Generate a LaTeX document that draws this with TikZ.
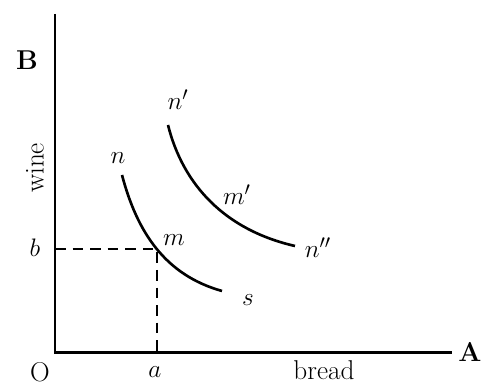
\documentclass[tikz,border=0pt]{standalone}
\usepackage{tikz}
\usetikzlibrary{positioning}

\begin{document}
\begin{tikzpicture}[
    x=0.02cm, y=-0.02cm,
    axis/.style = {draw=black, line width=1.7pt},
    curve/.style = {draw=black, line width=1.5pt},
    guide/.style = {draw=black, line width=1.1pt, dash pattern=on 6pt off 4pt},
    lbl/.style = {font=\fontsize{15.5}{18}\selectfont, inner sep=1pt}
]
\useasboundingbox (0,0) rectangle (488,384);

% Axes
\coordinate (c_O) at (55,353);
\coordinate (c_top) at (55,14);
\coordinate (c_right) at (452,353);
\coordinate (c_m) at (157,249);
\coordinate (c_a) at (c_m |- c_O);
\coordinate (c_b) at (c_m -| c_O);

\draw [axis] (c_top) -- (c_O) -- (c_right);

% Dashed guides
\draw [guide] (c_b) -- (c_m) -- (c_a);

% Curves
\draw [curve] (122,175) .. controls (137,232) and (165,275) .. (222,291);
\draw [curve] (168,125) .. controls (183,185) and (225,230) .. (295,246);

% Labels
\node (n_B) [lbl] at (27,60) {\textbf{B}};
\node (n_A) [lbl] at (470,352) {\textbf{A}};
\node (n_O) [lbl] at (40,372) {O};
\node (n_a) [lbl] at (155,372) {$a$};
\node (n_b) [lbl] at (35,248) {$b$};
\node (n_bread) [lbl] at (324,370) {bread};
\node (n_wine) [lbl, rotate=90] at (35,168) {wine};
\node (n_n) [lbl] at (118,158) {$n$};
\node (n_m) [lbl] at (174,240) {$m$};
\node (n_s) [lbl] at (248,300) {$s$};
\node (n_n1) [lbl] at (178,100) {$n'$};
\node (n_m1) [lbl] at (237,195) {$m'$};
\node (n_n2) [lbl] at (318,248) {$n''$};

\end{tikzpicture}
\end{document}
